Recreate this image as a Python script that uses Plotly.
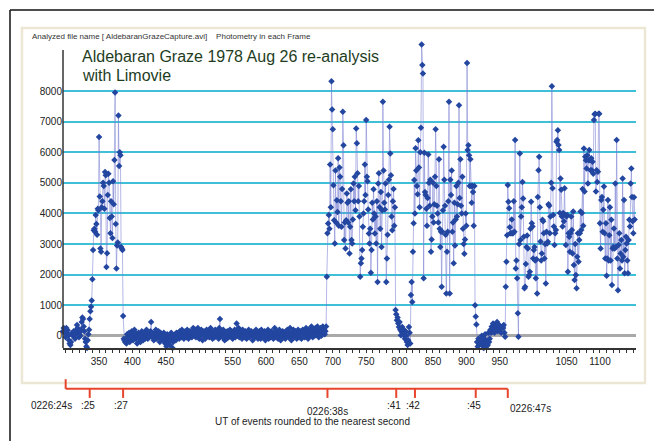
import plotly.graph_objects as go

# ---------------- data (frame numbers & photometry values) ----------------
seg_start = [296, 335, 389, 691, 794, 817, 913, 959]

flux_pre = [150, 250, 100, 200, -50, 250, 100, 180, 0, -150,
            -250, -300, -200, 50, 100, 0, 150, 80, -100, 50,
            200, 350, 250, 100, -50, 100, 0, 200, 450, 600,
            550, 300, 150, -100, -200, -350, -400, -150, 50]

flux_event1 = [200, 550, 800, 950, 1150, 1850, 2800, 3450, 3500, 3400,
               3950, 3650, 3300, 4150, 4100, 6500, 4550, 2850, 2750, 4200,
               4400, 5000, 4900, 4150, 5350, 5250, 2250, 2700, 4600, 5300,
               5000, 3850, 3350, 4400, 3900, 3200, 5050, 4300, 5750, 7950,
               3650, 2200, 2950, 3050, 7200, 5550, 6000, 5900, 2900, 2850,
               2800, 650, -100, -150]

flux_base = [-200, -100, -250, 50, -150, -50, 100, -200, -100, 0, 150, -50, -150, 50, 200, 100, -100, 0, -250, -50,
             100, -100, 50, -200, 0, 150, 50, -150, -50, 100, -100, 0, 200, 50, -100, 100, -50, 0, 150, 450,
             100, -50, 50, -150, 0, 100, 200, -100, 50, -50, 150, 0, -200, 100, -100, 50, 0, -150, 100, -50,
             -250, -100, -350, 50, -200, -100, 0, -300, -150, 100, -50, -400, -200, 0, -100, 50, -150, 100, 0, -50,
             100, -100, 150, 50, -50, 200, 0, 100, -100, 50, 150, 0, -50, 200, 100, -100, 50, 150, 0, 100,
             -50, 150, 250, 100, 0, 200, -50, 100, 50, 250, 100, -100, 150, 0, 200, 50, -150, 100, 150, 0,
             -100, 100, 200, 0, 50, 150, -50, 100, 250, 0, 100, -100, 50, 150, -50, 200, 100, 0, 150, 50,
             -100, 250, 550, 100, 0, 150, -50, 200, 50, -150, 100, 0, -100, 150, 50, -50, 100, 200, 0, 150,
             50, -100, 100, 0, 200, -50, 150, 400, 100, 0, 250, -50, 100, 150, 0, -100, 200, 50, 100, -50,
             150, 0, -100, 100, 50, 200, -50, 100, 0, 150, 50, -150, 100, 0, -50, 150, 200, 0, 100, -100,
             50, 150, 0, -100, 200, 50, 100, -50, 0, 150, -150, 100, 50, 0, 200, -100, 100, 50, -50, 150,
             0, 100, -100, 50, 250, 0, -50, 150, 100, -100, 0, 200, 50, -150, 100, 0, 150, -50, 100, 50,
             -100, 150, 0, 200, 50, -50, 100, 250, 0, -150, 100, 50, 200, -50, 0, 150, 100, -100, 50, 200,
             0, -50, 150, 100, -100, 50, 200, 0, 100, -50, 150, 250, 0, 100, -100, 200, 50, 0, 150, 300,
             100, -50, 200, 150, 0, 250, 100, 50, 300, 150, -50, 200, 100, 250, 0, 150, 300, 100, 200, 50,
             150, 300]

flux_event2 = [1930, 3350, 3670, 3950, 3500, 5600, 4200, 8320, 7400, 6750,
               4920, 3780, 3020, 5400, 3700, 4430, 4050, 5800, 3600, 5500,
               5200, 4400, 3560, 4800, 7320, 6230, 3130, 3700, 2850, 3780,
               4650, 4350, 3700, 4400, 2690, 3560, 4790, 3130, 3020, 3800,
               4980, 4400, 5200, 4100, 6780, 6290, 5310, 4400, 4900, 3900,
               1930, 2370, 2530, 2800, 3560, 4000, 4400, 5600, 4600, 7050,
               5200, 5050, 4130, 3345, 3020, 3500, 2060, 2800, 4350, 3800,
               4790, 4000, 3345, 3900, 3020, 4400, 1760, 4980, 5310, 4200,
               3500, 4700, 2900, 4100, 7650, 5400, 4350, 4130, 4980, 1760,
               2530, 3300, 4600, 5100, 6830, 5960, 5250, 3900, 3450, 4400,
               4800, 3600, 4200]

flux_gap2 = [840, 700, 510, 600, 400, 290, 450, 200, 20, 130,
             290, 100, 200, 0, -100, 150, 0, -200, -300, -150,
             290, 100, -250]

flux_event3 = [1330, 1760, 1100, 2750, 3680, 5090, 4000, 6130, 5400, 4900,
               4630, 6390, 5500, 4200, 6000, 6800, 9520, 8850, 8570, 1880,
               5980, 4700, 4600, 4150, 3600, 4500, 5930, 5000, 4250, 5100,
               2750, 3150, 3900, 5000, 3700, 4300, 5200, 6750, 4900, 4250,
               4000, 3700, 5770, 3500, 2900, 3400, 1600, 3400, 4100, 6180,
               5100, 4250, 3300, 1380, 2750, 3400, 4400, 7650, 1380, 5100,
               4600, 5400, 3400, 3700, 2370, 4350, 2950, 3800, 4900, 3900,
               4300, 5000, 7540, 4500, 5770, 4250, 4000, 5200, 3500, 3000,
               2680, 3150, 4000, 3600, 8920, 6070, 6230, 5900, 4900, 5770,
               4900, 4350, 4900, 4700, 3600, 4900]

flux_gap3 = [1000, 630, 370,
             -200, -350, -100, -300, -450, -150, -250, 0, -300, -200,
             -400, -100, 50, -250, -350, -150, -300, 100, -200, -100,
             200, 100, 300, 150, 400, 250, 100, 350, 200, 300,
             450, 150, 250, 350, 200, 300, 100, 250,
             300, 250, 350, 100, -30]

flux_event4 = [1600, 2420, 3290, 4925, 4380, 4170, 3550, 3350, 3350, 3800,
               3350, 3350, 4400, 3400, 6400, 2200, 2460, 1880, 740, -30,
               3000, 5960, 3130, 3900, 4200, 5030, 4490, 3240, 1550, 1600,
               2350, 2900, 3280, 2850, 1930, 1990, 2090, 3500, 4380, 3680,
               3570, 2530, 2800, 2900, 2460, 1880, 2500, 1385, 4540, 5415,
               5850, 4200, 3080, 2460, 2690, 3790, 3740, 3350, 2530, 3000,
               1710, 3400, 3020, 3070, 4300, 4250, 3350, 3900, 5000, 8160,
               4820, 3950, 3570, 2970, 3350, 3460, 6340, 6400, 6720, 6240,
               6070, 4010, 5140, 4770, 3900, 3570, 4010, 3740, 4820, 3950,
               2970, 3900, 3950, 2090, 3350, 3240, 2750, 3350, 3900, 3460,
               2690, 4060, 2310, 1820, 3000, 1990, 1550, 2580, 3350, 2420,
               3130, 3350, 4060, 3460, 4010, 4800, 3600, 6120, 4720, 5850,
               5740, 5470, 5900, 4980, 5740, 6070, 5740, 5415, 5800, 5415,
               5690, 5300, 7050, 7240, 7260, 4720, 5415, 5030, 5360, 7260,
               7260, 3680, 2850, 4440, 4540, 3400, 4120, 4880, 3350, 2530,
               3680, 1960, 2530, 4440, 2460, 3290, 4200, 2460, 3790, 1660,
               2850, 2900, 3510, 2850, 4980, 2900, 6400, 2530, 1490, 2970,
               3350, 2200, 2690, 3130, 2460, 5140, 2580, 4440, 2040, 2800,
               3240, 3020, 2460, 2040, 3130, 3790, 3570, 4980, 5470, 4540,
               3740, 3350, 4530, 3800]

x_tick_vals = list(range(300, 1151, 10))
x_tick_labels = [350, 400, 450, 550, 600, 650, 700, 750, 800, 850, 900, 950, 1050, 1100]
y_tick_vals = [0, 1000, 2000, 3000, 4000, 5000, 6000, 7000, 8000]

event_frames = [300, 336, 386, 692, 795, 823, 914, 962]
event_labels = ["0226:24s", ":25", ":27", "0226:38s", ":41", ":42", ":45", "0226:47s"]

# ---------------- build series ----------------
segments = [flux_pre, flux_event1, flux_base, flux_event2, flux_gap2,
            flux_event3, flux_gap3, flux_event4]
frames, flux = [], []
for s, seg in zip(seg_start, segments):
    frames += [s + i for i in range(len(seg))]
    flux += seg

NARROW = "Liberation Sans Narrow, Arial Narrow, Liberation Sans, Arial, sans-serif"
SANS = "Liberation Sans, Arial, sans-serif"

fig = go.Figure()
fig.add_trace(go.Scatter(
    x=frames, y=flux, mode="lines+markers",
    line=dict(color="rgba(120,125,210,0.55)", width=1),
    marker=dict(symbol="diamond", size=5, color="#2346a0"),
    cliponaxis=False, showlegend=False, hoverinfo="skip"))

# page body has an 8px margin, so the figure is 8px smaller and shifted
fig.update_layout(
    width=654, height=433,
    margin=dict(l=55, r=26, t=28, b=93),
    paper_bgcolor="white", plot_bgcolor="white",
    showlegend=False,
)

fig.update_xaxes(
    range=[296, 1154], tickmode="array", tickvals=x_tick_vals,
    ticktext=[str(v) if v in x_tick_labels else "" for v in x_tick_vals],
    ticks="outside", ticklen=3, tickwidth=1, tickcolor="#333",
    showline=True, linecolor="#333", linewidth=1.5,
    showgrid=False, zeroline=False,
    tickfont=dict(family=NARROW, size=10, color="#222"),
)
fig.update_yaxes(
    range=[-400, 9800], tickmode="array", tickvals=y_tick_vals,
    ticktext=[str(v) for v in y_tick_vals],
    showgrid=True, gridcolor="#3fbfd8", gridwidth=1.5,
    zeroline=True, zerolinecolor="#a9a9a9", zerolinewidth=2.5,
    showline=False, ticks="",
    tickfont=dict(family=NARROW, size=10, color="#222"),
)

shapes = []
# panel border
shapes.append(dict(type="rect", xref="paper", yref="paper", x0=-0.0716, x1=1.0157,
                   y0=-0.112, y1=1.0256, line=dict(color="#ebe7d4", width=2.5), layer="below"))
# outer black frame (top & left)
shapes.append(dict(type="line", xref="paper", yref="paper", x0=-0.0925, x1=1.1,
                   y0=1.0833, y1=1.0833, line=dict(color="#111", width=1.5)))
shapes.append(dict(type="line", xref="paper", yref="paper", x0=-0.0925, x1=-0.0925,
                   y0=-0.32, y1=1.0833, line=dict(color="#111", width=1.5)))
# y axis line
shapes.append(dict(type="line", xref="paper", yref="paper", x0=0, x1=0,
                   y0=0, y1=0.955, line=dict(color="#333", width=1.5)))
# red event bracket
RED = "#e8442c"
shapes.append(dict(type="line", xref="x", yref="paper", x0=event_frames[0], x1=event_frames[-1],
                   y0=-0.131, y1=-0.131, line=dict(color=RED, width=2)))
for i, f in enumerate(event_frames):
    if i == 0:
        y0, y1 = -0.131, -0.10
    else:
        y0, y1 = -0.131, -0.160
    shapes.append(dict(type="line", xref="x", yref="paper", x0=f, x1=f, y0=y0, y1=y1,
                       line=dict(color=RED, width=2)))
fig.update_layout(shapes=shapes)

ann = []
ann.append(dict(xref="paper", yref="paper", x=-0.0576, y=0.997, xanchor="left", yanchor="middle",
                text="Analyzed file name [ AldebaranGrazeCapture.avi]    Photometry in each Frame",
                showarrow=False, font=dict(family=NARROW, size=8, color="#333")))
ann.append(dict(xref="paper", yref="paper", x=0.0297, y=0.9327, xanchor="left", yanchor="middle",
                text="Aldebaran Graze 1978 Aug 26 re-analysis", showarrow=False,
                font=dict(family=SANS, size=16, color="#1e3d1e")))
ann.append(dict(xref="paper", yref="paper", x=0.0297, y=0.8718, xanchor="left", yanchor="middle",
                text="with Limovie", showarrow=False,
                font=dict(family=SANS, size=16, color="#1e3d1e")))
for i, (f, lab) in enumerate(zip(event_frames, event_labels)):
    if i == 0:
        a = dict(x=f, xanchor="right", xshift=8, y=-0.183)
    elif i == len(event_frames) - 1:
        a = dict(x=f, xanchor="left", xshift=0, y=-0.195)
    elif lab.startswith("0226"):
        a = dict(x=f, xanchor="center", xshift=0, y=-0.202)
    else:
        a = dict(x=f, xanchor="center", xshift=-2, y=-0.183)
    a.update(xref="x", yref="paper", yanchor="middle", text=lab, showarrow=False,
             font=dict(family=NARROW, size=10, color="#222"))
    ann.append(a)
ann.append(dict(xref="paper", yref="paper", x=0.436, y=-0.234, xanchor="center", yanchor="middle",
                text="UT of events rounded to the nearest second", showarrow=False,
                font=dict(family=NARROW, size=10, color="#222")))
fig.update_layout(annotations=ann)

fig.write_html("out.html")
